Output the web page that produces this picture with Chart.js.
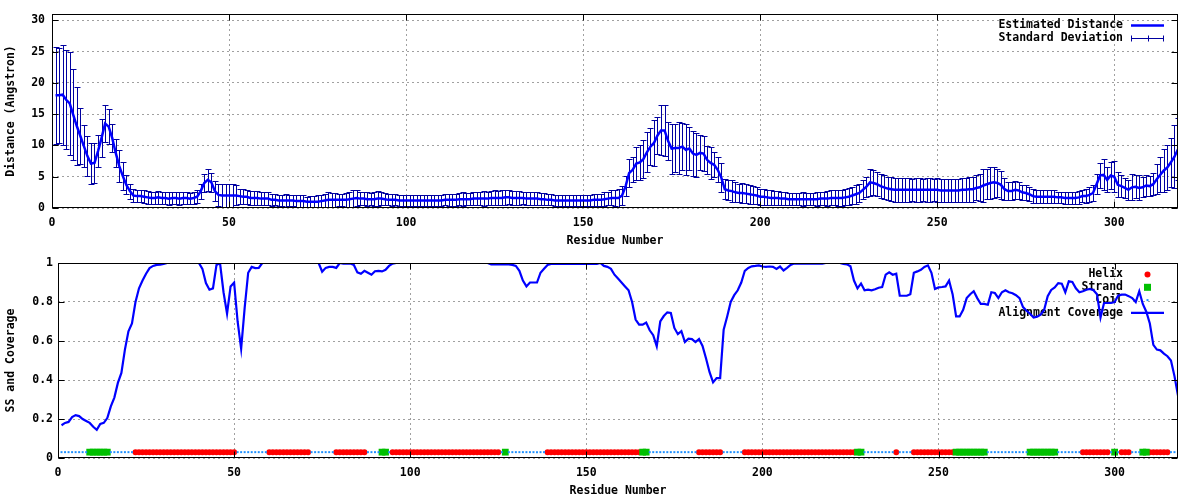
<!DOCTYPE html>
<html lang="en">
<head>
<meta charset="UTF-8" />
<title>Estimated distance and alignment coverage</title>
<script src="https://cdn.jsdelivr.net/npm/chart.js@4.4.1/dist/chart.umd.min.js"></script>
<style>
  body { margin: 0; background: #fff; }
  .panel { position: relative; width: 1200px; height: 250px; }
</style>
</head>
<body>
<div class="panel"><canvas id="distChart"></canvas></div>
<div class="panel"><canvas id="covChart"></canvas></div>
<script>
// values, one per residue (1..318)
const distance = [
  18.0, 18.0, 18.1, 17.3, 16.7, 14.9, 13.1, 11.5, 9.9, 8.3,
  7.1, 7.2, 9.1, 11.2, 13.5, 13.0, 11.2, 8.8, 6.7, 5.1,
  3.7, 2.7, 2.0, 1.9, 1.9, 1.8, 1.7, 1.6, 1.6, 1.7,
  1.6, 1.6, 1.5, 1.6, 1.6, 1.5, 1.6, 1.6, 1.5, 1.6,
  1.8, 2.7, 4.0, 4.5, 4.1, 2.7, 2.1, 2.0, 2.0, 2.0,
  2.0, 2.0, 1.9, 1.8, 1.8, 1.6, 1.6, 1.6, 1.5, 1.5,
  1.5, 1.3, 1.3, 1.2, 1.2, 1.2, 1.2, 1.2, 1.1, 1.1,
  1.1, 1.0, 1.0, 1.0, 1.0, 1.1, 1.2, 1.3, 1.3, 1.3,
  1.3, 1.3, 1.3, 1.4, 1.5, 1.6, 1.5, 1.5, 1.4, 1.4,
  1.4, 1.5, 1.5, 1.4, 1.3, 1.3, 1.3, 1.2, 1.2, 1.2,
  1.2, 1.2, 1.2, 1.2, 1.2, 1.2, 1.2, 1.2, 1.2, 1.2,
  1.3, 1.3, 1.3, 1.3, 1.4, 1.4, 1.4, 1.4, 1.5, 1.5,
  1.5, 1.5, 1.5, 1.6, 1.6, 1.6, 1.6, 1.7, 1.7, 1.6,
  1.6, 1.6, 1.6, 1.5, 1.5, 1.5, 1.5, 1.4, 1.4, 1.3,
  1.3, 1.2, 1.2, 1.2, 1.2, 1.2, 1.2, 1.2, 1.2, 1.2,
  1.2, 1.2, 1.3, 1.3, 1.3, 1.4, 1.5, 1.6, 1.6, 1.6,
  2.0, 3.5, 5.6, 6.1, 7.1, 7.3, 7.8, 8.9, 9.8, 10.4,
  11.6, 12.4, 12.4, 10.7, 9.5, 9.6, 9.6, 9.8, 9.3, 9.5,
  8.7, 8.5, 8.8, 8.7, 7.7, 7.2, 6.9, 6.1, 4.9, 3.0,
  2.8, 2.7, 2.5, 2.4, 2.4, 2.3, 2.2, 2.1, 2.0, 1.8,
  1.8, 1.7, 1.6, 1.6, 1.6, 1.5, 1.5, 1.4, 1.4, 1.4,
  1.4, 1.4, 1.4, 1.4, 1.4, 1.4, 1.5, 1.5, 1.5, 1.6,
  1.6, 1.6, 1.6, 1.7, 1.8, 2.0, 2.2, 2.4, 2.9, 3.4,
  4.1, 4.0, 3.8, 3.5, 3.3, 3.1, 3.0, 2.9, 2.9, 2.9,
  2.9, 2.9, 2.9, 2.9, 2.9, 2.9, 2.9, 2.9, 2.9, 2.9,
  2.8, 2.8, 2.8, 2.8, 2.8, 2.8, 2.9, 2.9, 3.0, 3.0,
  3.2, 3.3, 3.6, 3.8, 4.0, 4.1, 4.0, 3.7, 3.0, 2.7,
  2.7, 2.9, 2.8, 2.5, 2.4, 2.2, 1.9, 1.8, 1.8, 1.8,
  1.8, 1.8, 1.8, 1.7, 1.7, 1.6, 1.6, 1.6, 1.6, 1.7,
  1.9, 1.9, 2.1, 2.4, 3.8, 5.2, 5.3, 4.5, 5.2, 5.0,
  3.7, 3.5, 3.2, 2.9, 3.3, 3.4, 3.2, 3.3, 3.6, 3.5,
  3.8, 4.6, 5.3, 6.0, 6.5, 7.3, 8.2, 9.4
];

const stdDev = [
  7.7, 7.6, 8.0, 7.9, 8.3, 7.3, 6.2, 4.5, 3.3, 3.2,
  3.3, 3.2, 2.6, 3.0, 3.0, 2.8, 2.3, 2.3, 2.5, 2.2,
  1.5, 1.2, 1.1, 1.0, 1.0, 1.0, 1.0, 1.0, 1.0, 1.0,
  1.0, 1.0, 1.0, 1.0, 1.0, 1.0, 1.0, 1.0, 0.9, 1.0,
  1.0, 1.2, 1.5, 1.8, 1.5, 1.6, 1.8, 1.9, 1.9, 1.9,
  1.8, 1.6, 1.2, 1.2, 1.1, 1.1, 1.1, 1.1, 1.0, 1.0,
  1.0, 1.0, 0.9, 0.9, 0.9, 1.0, 0.9, 0.9, 0.9, 0.9,
  0.9, 0.8, 0.9, 0.9, 1.0, 1.0, 1.1, 1.2, 1.1, 1.1,
  1.0, 1.0, 1.1, 1.2, 1.3, 1.3, 1.1, 1.0, 1.1, 1.0,
  1.1, 1.2, 1.1, 1.0, 0.9, 1.0, 0.9, 0.9, 0.9, 0.9,
  0.9, 0.9, 0.9, 0.9, 0.9, 0.9, 0.9, 0.9, 0.9, 0.9,
  0.9, 1.0, 1.0, 1.0, 1.0, 1.1, 1.0, 1.0, 1.1, 1.1,
  1.1, 1.2, 1.1, 1.1, 1.2, 1.1, 1.2, 1.2, 1.1, 1.1,
  1.1, 1.1, 1.0, 1.0, 1.0, 1.0, 1.0, 1.0, 1.0, 0.9,
  0.9, 0.9, 0.9, 0.9, 0.9, 0.9, 0.9, 0.9, 0.9, 0.9,
  0.9, 0.9, 1.0, 1.0, 1.0, 1.1, 1.1, 1.2, 1.3, 1.4,
  1.5, 1.6, 2.2, 2.0, 2.6, 2.8, 3.0, 3.2, 3.0, 3.7,
  3.0, 4.0, 4.1, 3.0, 4.0, 3.8, 4.1, 3.8, 4.1, 3.5,
  3.6, 3.5, 2.8, 2.8, 2.2, 2.5, 2.0, 2.0, 2.3, 1.6,
  1.6, 1.7, 1.6, 1.5, 1.6, 1.5, 1.5, 1.4, 1.4, 1.3,
  1.3, 1.2, 1.2, 1.1, 1.1, 1.0, 1.0, 1.0, 1.0, 1.0,
  1.0, 1.1, 1.0, 1.0, 1.0, 1.1, 1.1, 1.1, 1.2, 1.2,
  1.2, 1.3, 1.3, 1.3, 1.4, 1.4, 1.5, 1.4, 1.5, 1.6,
  2.2, 2.0, 1.9, 1.9, 1.9, 1.9, 1.9, 1.9, 1.9, 1.9,
  1.9, 1.9, 1.8, 1.9, 1.9, 1.8, 1.9, 1.9, 1.8, 1.9,
  1.9, 1.8, 1.8, 1.9, 1.9, 1.9, 1.9, 1.9, 2.0, 2.0,
  2.0, 2.2, 2.6, 2.4, 2.6, 2.5, 2.3, 2.2, 1.8, 1.5,
  1.4, 1.4, 1.3, 1.2, 1.2, 1.1, 1.1, 1.0, 1.0, 1.0,
  1.0, 1.0, 1.0, 0.9, 0.9, 0.9, 0.9, 0.9, 1.0, 1.0,
  1.0, 1.1, 1.2, 1.3, 1.6, 2.0, 2.5, 2.0, 2.2, 2.5,
  2.0, 1.8, 1.6, 1.6, 2.1, 1.8, 2.0, 1.6, 1.7, 1.6,
  1.8, 2.4, 2.8, 3.4, 3.6, 3.9, 5.0, 5.0
];

const coverage = [
  0.168, 0.18, 0.185, 0.21, 0.22, 0.215, 0.2, 0.19, 0.18, 0.16,
  0.145, 0.175, 0.18, 0.205, 0.265, 0.31, 0.385, 0.436, 0.556, 0.65,
  0.69, 0.8, 0.87, 0.91, 0.945, 0.974, 0.985, 0.99, 0.992, 0.995,
  1, 1, 1, 1, 1, 1, 1, 1, 1, 1,
  0.97, 0.897, 0.863, 0.87, 0.99, 1.0, 0.85, 0.74, 0.88, 0.9,
  0.7, 0.56, 0.77, 0.95, 0.98, 0.974, 0.975, 1, 1, 1,
  1, 1, 1, 1, 1, 1, 1, 1, 1, 1,
  1, 1, 1, 1, 0.955, 0.975, 0.98, 0.98, 0.975, 1,
  0.997, 0.997, 0.997, 0.99, 0.952, 0.945, 0.96, 0.95, 0.94, 0.958,
  0.96, 0.957, 0.965, 0.985, 0.997, 1, 1, 1, 1, 1,
  1, 1, 1, 1, 1, 1, 1, 1, 1, 1,
  1, 1, 1, 1, 1, 1, 1, 1, 1, 1,
  1, 1, 0.993, 0.993, 0.993, 0.993, 0.993, 0.993, 0.99, 0.985,
  0.96, 0.91, 0.88, 0.9, 0.9, 0.9, 0.95, 0.97, 0.99, 0.995,
  0.995, 0.995, 0.995, 0.995, 0.995, 0.995, 0.995, 0.995, 0.995, 0.995,
  0.995, 0.995, 0.995, 1, 0.985, 0.98, 0.97, 0.94, 0.92, 0.9,
  0.88, 0.86, 0.8, 0.71, 0.684, 0.684, 0.695, 0.655, 0.63, 0.573,
  0.7, 0.728, 0.747, 0.744, 0.667, 0.635, 0.65, 0.595, 0.612, 0.61,
  0.595, 0.61, 0.575, 0.51, 0.44, 0.388, 0.41, 0.41, 0.658, 0.726,
  0.8, 0.835, 0.86, 0.9, 0.96, 0.975, 0.983, 0.985, 0.988, 0.982,
  0.98, 0.982, 0.98, 0.97, 0.982, 0.962, 0.975, 0.99, 0.997, 0.997,
  0.997, 0.997, 0.997, 0.997, 0.997, 0.997, 0.997, 1, 1, 1,
  1, 1, 0.995, 0.993, 0.983, 0.91, 0.87, 0.895, 0.86, 0.863,
  0.86, 0.865, 0.873, 0.877, 0.94, 0.952, 0.94, 0.945, 0.832, 0.832,
  0.832, 0.84, 0.95, 0.957, 0.965, 0.98, 0.988, 0.95, 0.867, 0.875,
  0.877, 0.88, 0.91, 0.84, 0.726, 0.726, 0.76, 0.82, 0.84, 0.855,
  0.82, 0.79, 0.79, 0.786, 0.85, 0.846, 0.82, 0.85, 0.86, 0.85,
  0.845, 0.835, 0.82, 0.774, 0.755, 0.74, 0.72, 0.725, 0.735, 0.76,
  0.83, 0.862, 0.875, 0.897, 0.894, 0.85, 0.906, 0.903, 0.87, 0.85,
  0.855, 0.863, 0.867, 0.86, 0.84, 0.72, 0.795, 0.795, 0.795, 0.8,
  0.832, 0.838, 0.838, 0.83, 0.82, 0.8, 0.855, 0.79, 0.75, 0.69,
  0.58, 0.556, 0.552, 0.535, 0.522, 0.5, 0.42, 0.32
];

// secondary structure, as residue ranges [first, last]
const helixSegments = [[22, 50], [60, 71], [79, 87], [95, 125], [139, 165], [182, 188],
  [195, 226], [238, 238], [243, 254], [291, 298], [302, 304], [310, 315]];
const strandSegments = [[9, 14], [92, 93], [127, 127], [166, 167], [227, 228],
  [255, 263], [276, 283], [300, 300], [308, 309]];
const ssLevel = 0.03;

const residueMax = 318;
const residues = distance.map((_, i) => i + 1);

const inSeg = (segs, r) => segs.some(([a, b]) => r >= a && r <= b);
const helixPts = residues.filter(r => inSeg(helixSegments, r)).map(r => ({x: r, y: ssLevel}));
const strandPts = residues.filter(r => inSeg(strandSegments, r)).map(r => ({x: r, y: ssLevel}));
const coilPts = residues.filter(r => !inSeg(helixSegments, r) && !inSeg(strandSegments, r))
  .map(r => ({x: r, y: ssLevel}));

const FONT = "'DejaVu Sans Mono', monospace";
Chart.defaults.font = { family: FONT, size: 11.5, weight: 'bold' };
Chart.defaults.color = '#000';

const GRID = '#a0a0a0';
const ERR = '#0000a0';

function xAxis() {
  return {
    type: 'linear', min: 0, max: residueMax,
    ticks: { stepSize: 50, includeBounds: false, padding: 8, maxRotation: 0 },
    grid: { color: GRID, drawTicks: false },
    border: { display: false, dash: [2, 3] },
    title: { display: true, text: 'Residue Number', padding: { top: 0, bottom: 2 } },
    afterFit: s => { s.height = 42; }
  };
}

// gnuplot-style frame with inward ticks on all four sides
const frame = {
  id: 'frame',
  afterDraw(chart) {
    const { ctx, chartArea: a, scales: { x, y } } = chart;
    const L = Math.round(a.left) + 0.5, R = Math.round(a.right) - 0.5;
    const T = Math.round(a.top) + 0.5, B = Math.round(a.bottom) - 0.5;
    ctx.save();
    ctx.strokeStyle = '#000';
    ctx.lineWidth = 1;
    ctx.beginPath();
    x.ticks.forEach(t => {
      const px = Math.round(x.getPixelForValue(t.value)) + 0.5;
      ctx.moveTo(px, B); ctx.lineTo(px, B - 6);
      ctx.moveTo(px, T); ctx.lineTo(px, T + 6);
    });
    y.ticks.forEach(t => {
      const py = Math.round(y.getPixelForValue(t.value)) + 0.5;
      ctx.moveTo(L, py); ctx.lineTo(L + 6, py);
      ctx.moveTo(R, py); ctx.lineTo(R - 6, py);
    });
    ctx.stroke();
    ctx.strokeRect(L, T, R - L, B - T);
    ctx.restore();
  }
};

function drawKey(chart, items) {
  const { ctx, chartArea: a } = chart;
  items.forEach((it, i) => {
    const y = a.top + 11.5 + i * 12.8;
    ctx.save();
    ctx.font = 'bold 11.5px ' + FONT;
    ctx.fillStyle = '#000';
    ctx.textAlign = 'right';
    ctx.textBaseline = 'middle';
    ctx.fillText(it.label, a.right - 55, y);
    it.sample(ctx, a.right - 47, a.right - 14, y);
    ctx.restore();
  });
}

const errorBars = {
  id: 'errorBars',
  beforeDatasetsDraw(chart) {
    const { ctx, chartArea: a, scales: { x, y } } = chart;
    ctx.save();
    ctx.beginPath();
    ctx.rect(a.left, a.top, a.width, a.height);
    ctx.clip();
    ctx.strokeStyle = ERR;
    ctx.lineWidth = 1;
    ctx.beginPath();
    residues.forEach((r, i) => {
      const px = Math.round(x.getPixelForValue(r)) + 0.5;
      const lo = Math.round(y.getPixelForValue(distance[i] - stdDev[i])) + 0.5;
      const hi = Math.round(y.getPixelForValue(distance[i] + stdDev[i])) + 0.5;
      ctx.moveTo(px, lo); ctx.lineTo(px, hi);
      ctx.moveTo(px - 3, lo); ctx.lineTo(px + 3, lo);
      ctx.moveTo(px - 3, hi); ctx.lineTo(px + 3, hi);
    });
    ctx.stroke();
    ctx.restore();

    drawKey(chart, [
      { label: 'Estimated Distance', sample: (c, x0, x1, yy) => {
        c.strokeStyle = '#0000ff'; c.lineWidth = 2.5;
        c.beginPath(); c.moveTo(x0, yy); c.lineTo(x1, yy); c.stroke();
      } },
      { label: 'Standard Deviation', sample: (c, x0, x1, yy) => {
        const m = Math.round((x0 + x1) / 2) + 0.5;
        const yp = Math.round(yy) + 0.5;
        c.strokeStyle = ERR; c.lineWidth = 1;
        c.beginPath();
        c.moveTo(x0, yp); c.lineTo(x1, yp);
        c.moveTo(x0 + 0.5, yp - 3); c.lineTo(x0 + 0.5, yp + 3);
        c.moveTo(x1 - 0.5, yp - 3); c.lineTo(x1 - 0.5, yp + 3);
        c.moveTo(m, yp - 3); c.lineTo(m, yp + 3);
        c.stroke();
      } }
    ]);
  }
};

new Chart(document.getElementById('distChart'), {
  type: 'line',
  data: {
    datasets: [{
      label: 'Estimated Distance',
      data: residues.map((r, i) => ({ x: r, y: distance[i] })),
      borderColor: '#0000ff',
      borderWidth: 2.5,
      pointRadius: 0,
      tension: 0
    }]
  },
  options: {
    responsive: true,
    maintainAspectRatio: false,
    animation: false,
    layout: { padding: { top: 14, right: 22, left: 0, bottom: 0 } },
    plugins: { legend: { display: false }, tooltip: { enabled: false } },
    scales: {
      x: xAxis(),
      y: {
        min: 0, max: 31,
        ticks: { stepSize: 5, includeBounds: false, padding: 7 },
        grid: { color: GRID, drawTicks: false },
        border: { display: false, dash: [2, 3] },
        title: { display: true, text: 'Distance (Angstron)', padding: { top: 4, bottom: 0 } },
        afterFit: s => { s.width = 52; }
      }
    }
  },
  plugins: [errorBars, frame]
});

const ssKey = {
  id: 'ssKey',
  beforeDatasetsDraw(chart) {
    drawKey(chart, [
      { label: 'Helix', sample: (c, x0, x1, yy) => {
        const m = (x0 + x1) / 2;
        c.fillStyle = '#ff0000';
        c.beginPath(); c.arc(m, yy, 3, 0, Math.PI * 2); c.fill();
      } },
      { label: 'Strand', sample: (c, x0, x1, yy) => {
        const m = (x0 + x1) / 2;
        c.fillStyle = '#00c000';
        c.fillRect(m - 3.5, yy - 3.5, 7, 7);
      } },
      { label: 'Coil', sample: (c, x0, x1, yy) => {
        const m = (x0 + x1) / 2;
        c.fillStyle = '#1e90ff';
        c.fillRect(m - 1, yy - 1, 2, 2);
      } },
      { label: 'Alignment Coverage', sample: (c, x0, x1, yy) => {
        c.strokeStyle = '#0000ff'; c.lineWidth = 2.2;
        c.beginPath(); c.moveTo(x0, yy); c.lineTo(x1, yy); c.stroke();
      } }
    ]);
  }
};

new Chart(document.getElementById('covChart'), {
  type: 'line',
  data: {
    datasets: [
      {
        label: 'Alignment Coverage',
        data: residues.map((r, i) => ({ x: r, y: coverage[i] })),
        borderColor: '#0000ff', borderWidth: 2.2, pointRadius: 0, tension: 0, order: 0
      },
      {
        label: 'Coil', data: coilPts, showLine: false, order: 1,
        pointStyle: 'rect', pointRadius: 1.4, pointBorderWidth: 0,
        pointBackgroundColor: '#1e90ff'
      },
      {
        label: 'Strand', data: strandPts, showLine: false, order: 2,
        pointStyle: 'rect', pointRadius: 4.8, pointBorderWidth: 0,
        pointBackgroundColor: '#00c000'
      },
      {
        label: 'Helix', data: helixPts, showLine: false, order: 3,
        pointStyle: 'circle', pointRadius: 3, pointBorderWidth: 0,
        pointBackgroundColor: '#ff0000'
      }
    ]
  },
  options: {
    responsive: true,
    maintainAspectRatio: false,
    animation: false,
    layout: { padding: { top: 13, right: 22, left: 0, bottom: 0 } },
    plugins: { legend: { display: false }, tooltip: { enabled: false } },
    scales: {
      x: xAxis(),
      y: {
        min: 0, max: 1,
        ticks: { stepSize: 0.2, padding: 5, callback: v => String(Math.round(v * 10) / 10) },
        grid: { color: GRID, drawTicks: false },
        border: { display: false, dash: [2, 3] },
        title: { display: true, text: 'SS and Coverage', padding: { top: 4, bottom: 0 } },
        afterFit: s => { s.width = 58; }
      }
    }
  },
  plugins: [ssKey, frame]
});
</script>
</body>
</html>
